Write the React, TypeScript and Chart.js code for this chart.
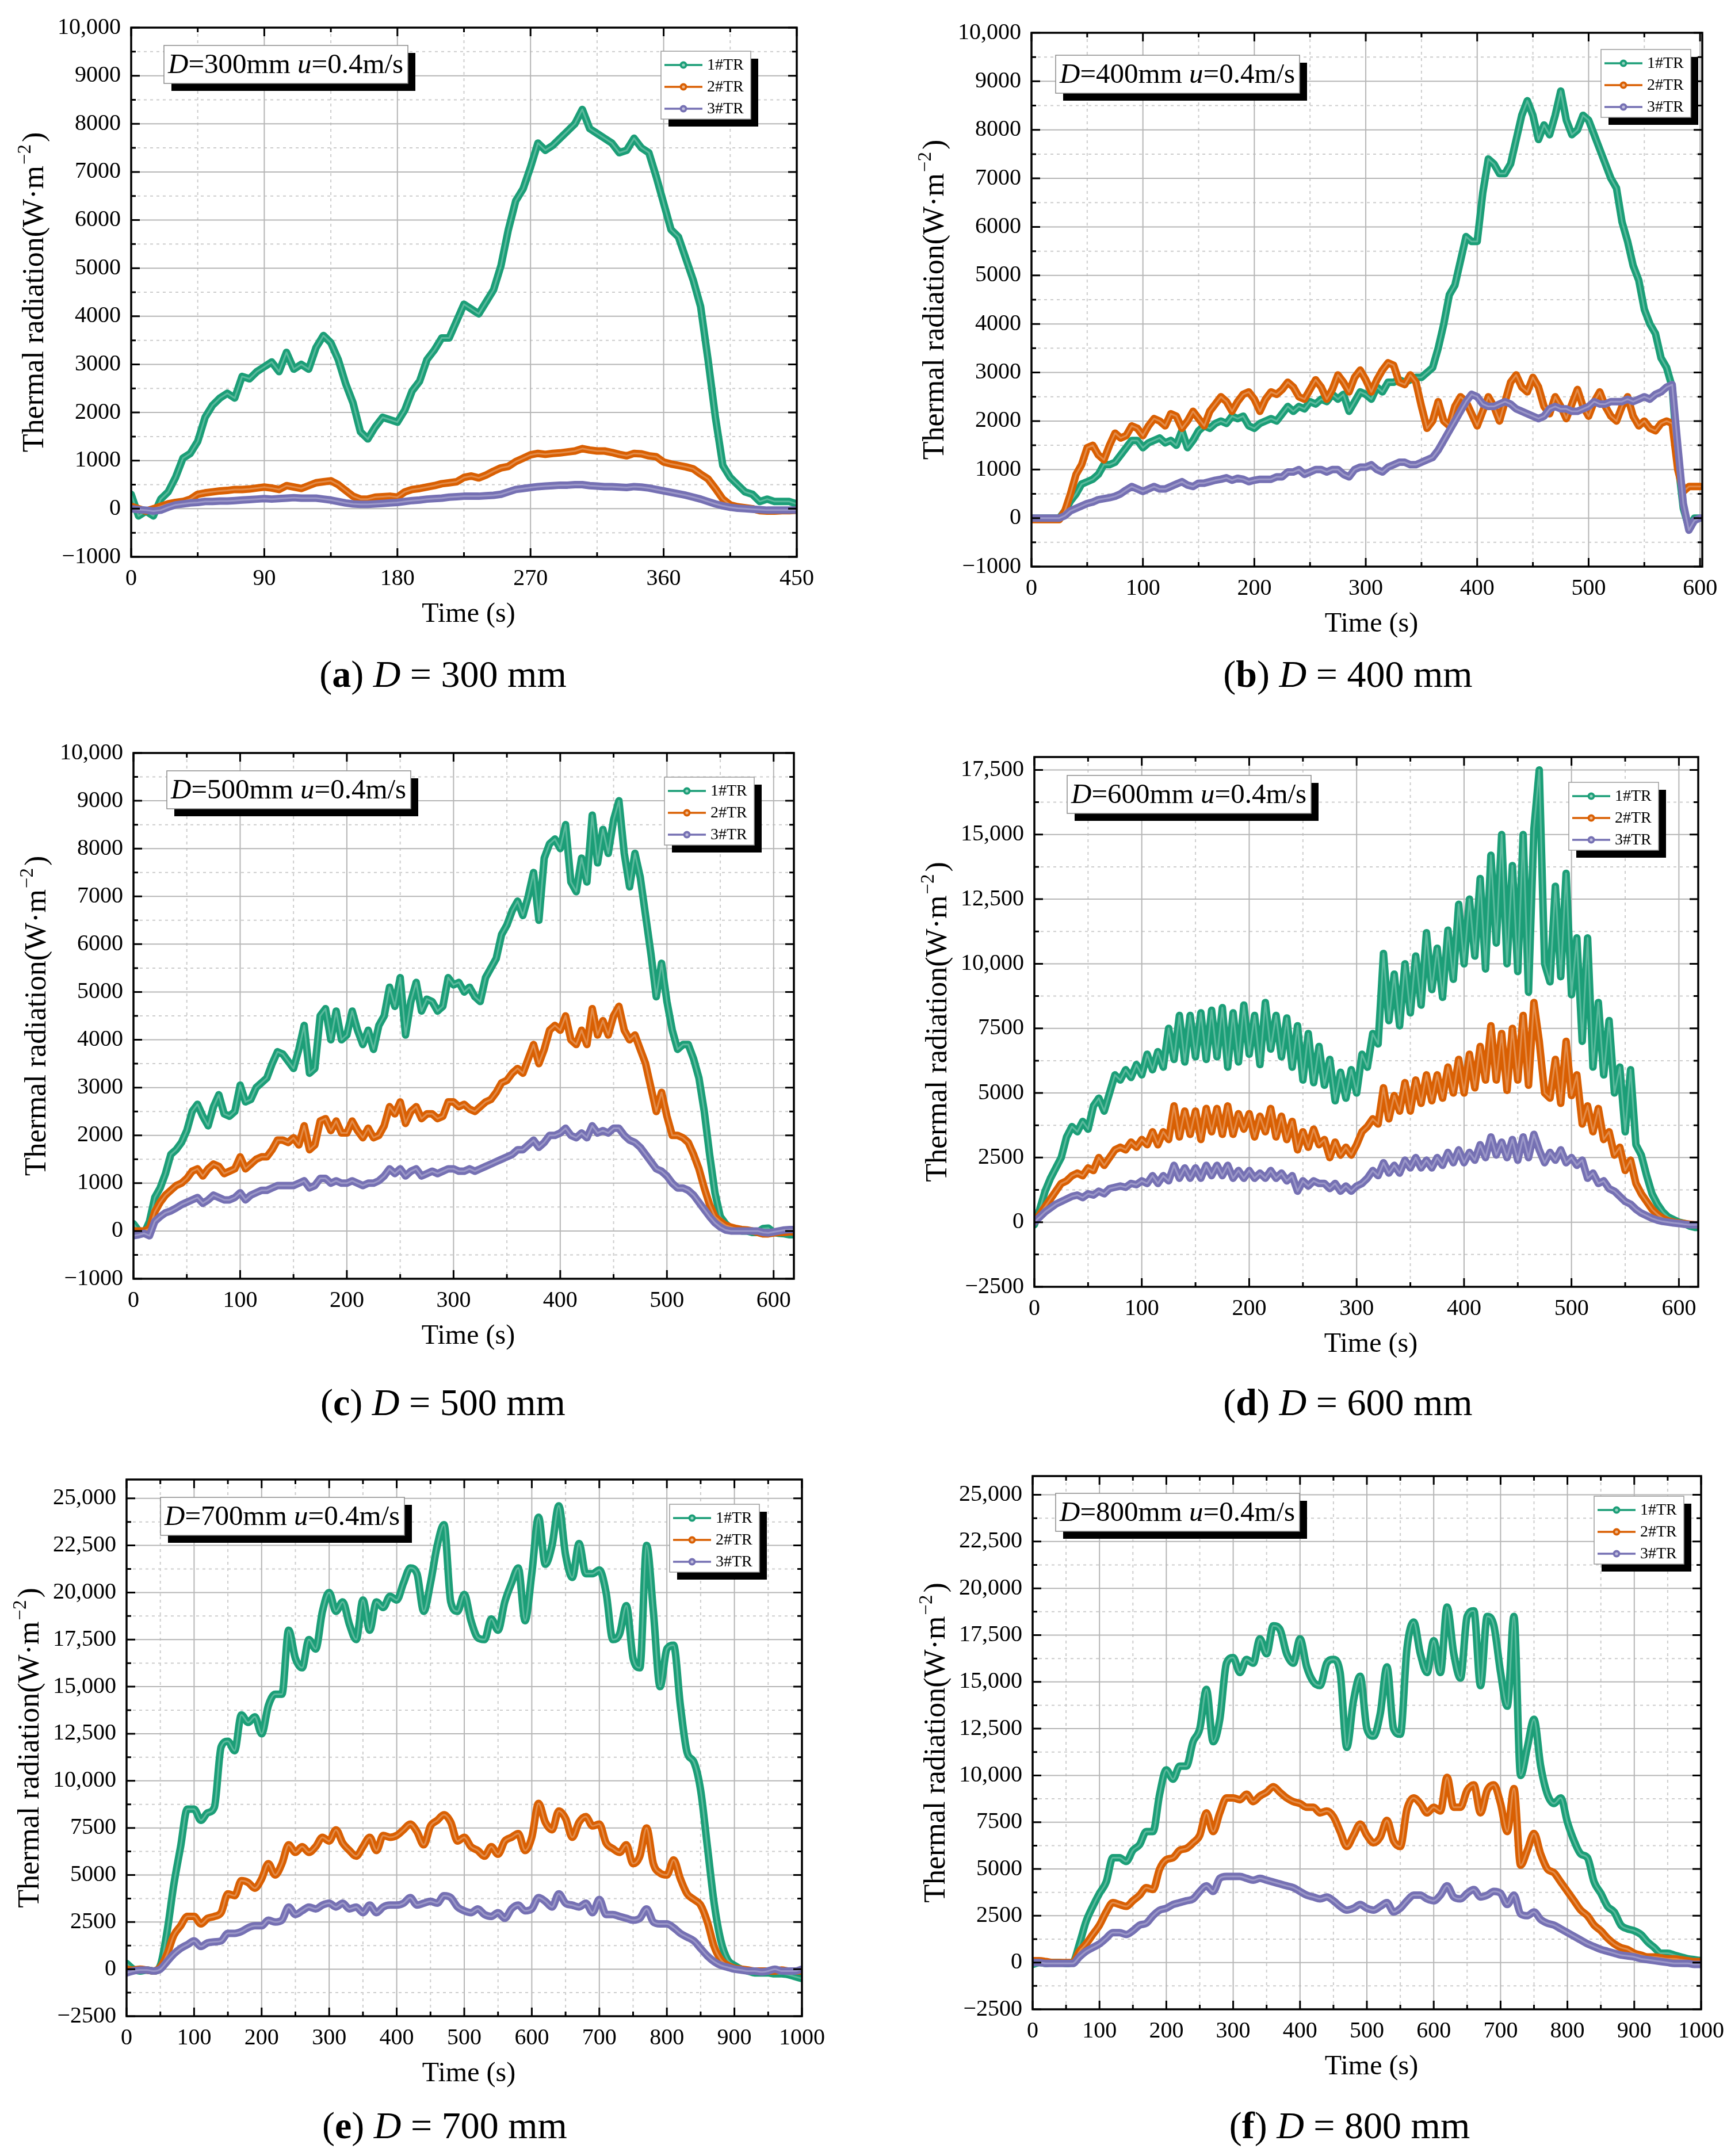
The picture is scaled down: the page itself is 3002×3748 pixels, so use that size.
import React, { useEffect, useRef } from 'react';
import Chart from 'chart.js/auto';

// ---- styling constants ----
const SERIF = '"Liberation Serif", "Times New Roman", serif';
const COLORS = ['#1b9e77', '#d95f02', '#7570b3'];
const SERIES_NAMES = ['1#TR', '2#TR', '3#TR'];
const AXIS_W = 220; // room for y labels + title
const AXIS_H = 140; // room for x labels + title
const PAD_T = 40;
const PAD_R = 60;

// sample instants of the recorded curves (s)
const sampleTimes = (step: number, last: number) => {
  const out: number[] = [];
  for (let t = 0; t <= last; t += step) out.push(t);
  return out;
};

// ---- tick labels ----
const xTicks450 = [0, 90, 180, 270, 360, 450];
const xTicks600 = [0, 100, 200, 300, 400, 500, 600];
const xTicks1000 = [0, 100, 200, 300, 400, 500, 600, 700, 800, 900, 1000];
const yTicks10k = [-1000, 0, 1000, 2000, 3000, 4000, 5000, 6000, 7000, 8000, 9000, 10000];
const yTicks17k = [-2500, 0, 2500, 5000, 7500, 10000, 12500, 15000, 17500];
const yTicks25k = [-2500, 0, 2500, 5000, 7500, 10000, 12500, 15000, 17500, 20000, 22500, 25000];

// ---- (a) D = 300 mm, every 5 s ----
const timeA = sampleTimes(5, 450);
const trA1 = [
  300, -150, -50, -150, 200, 350, 650, 1050, 1150, 1400,
  1900, 2150, 2300, 2400, 2300, 2750, 2700, 2850, 2950, 3050,
  2850, 3250, 2900, 3000, 2900, 3350, 3600, 3450, 3100, 2600,
  2200, 1600, 1450, 1700, 1900, 1850, 1800, 2050, 2450, 2650,
  3100, 3300, 3550, 3550, 3900, 4250, 4150, 4050, 4300, 4550,
  5050, 5800, 6400, 6650, 7100, 7600, 7450, 7550, 7700, 7850,
  8000, 8300, 7900, 7800, 7700, 7600, 7400, 7450, 7700, 7500,
  7400, 6900, 6350, 5800, 5650, 5200, 4750, 4200, 3100, 1900,
  900, 650, 500, 350, 300, 150, 200, 150, 150, 150,
  100,
];
const trA2 = [
  50, 0, -50, 0, 50, 100, 130, 150, 200, 300,
  330, 350, 370, 380, 400, 400, 410, 430, 450, 430,
  400, 480, 450, 420, 480, 540, 560, 580, 500, 380,
  260, 200, 200, 240, 250, 260, 240, 350, 400, 420,
  450, 480, 520, 540, 560, 650, 680, 640, 700, 780,
  850, 880, 980, 1050, 1120, 1150, 1130, 1150, 1160, 1180,
  1200, 1250, 1220, 1200, 1200, 1170, 1130, 1100, 1150, 1140,
  1100, 1080, 970, 930, 900, 870, 830, 720, 620, 420,
  200, 80, 40, 20, 0, -40, -50, -50, -40, -40,
  -30,
];
const trA3 = [
  0, -20, -30, -50, -30, 30, 80, 100, 120, 130,
  150, 150, 160, 160, 170, 180, 190, 200, 210, 200,
  210, 220, 230, 220, 220, 220, 200, 180, 150, 120,
  100, 90, 90, 100, 110, 120, 130, 150, 170, 180,
  200, 210, 220, 240, 250, 260, 260, 260, 270, 280,
  300, 350, 400, 420, 440, 460, 470, 480, 490, 490,
  500, 500, 480, 470, 460, 460, 450, 440, 460, 450,
  430, 400, 370, 340, 310, 280, 240, 200, 150, 100,
  60, 30, 10, 0, -10, -20, -30, -30, -30, -30,
  -30,
];

// ---- (b) D = 400 mm, every 5 s ----
const timeB = sampleTimes(5, 600);
const trB1 = [
  0, 0, 0, 0, 0, 0, 150, 350, 500, 700,
  750, 800, 900, 1100, 1100, 1150, 1300, 1450, 1600, 1600,
  1450, 1550, 1600, 1650, 1550, 1600, 1500, 1800, 1450, 1600,
  1800, 1900, 1850, 1950, 2000, 1950, 2100, 2050, 2100, 1900,
  1850, 1950, 2000, 2050, 2000, 2150, 2300, 2200, 2300, 2250,
  2400, 2350, 2450, 2400, 2550, 2450, 2550, 2200, 2400, 2600,
  2550, 2450, 2700, 2600, 2800, 2800, 2850, 2800, 2850, 2900,
  2900, 3000, 3100, 3500, 4000, 4600, 4800, 5300, 5800, 5700,
  5700, 6700, 7400, 7300, 7100, 7100, 7300, 7800, 8300, 8600,
  8300, 7800, 8100, 7900, 8300, 8800, 8200, 7900, 8000, 8300,
  8200, 7900, 7600, 7300, 7000, 6800, 6100, 5700, 5200, 4900,
  4300, 4000, 3800, 3300, 3100, 2700, 1200, 200, -200, 0,
  0,
];
const trB2 = [
  -30, -30, -30, -30, -30, -30, 150, 500, 900, 1100,
  1450, 1500, 1300, 1200, 1500, 1750, 1650, 1700, 1900, 1850,
  1700, 1900, 2050, 2000, 1900, 2150, 2100, 1850, 2000, 2200,
  2050, 1900, 2200, 2350, 2500, 2400, 2200, 2400, 2550, 2600,
  2450, 2200, 2450, 2600, 2550, 2650, 2800, 2700, 2500, 2450,
  2650, 2850, 2700, 2450, 2650, 2950, 2800, 2600, 2900, 3050,
  2850, 2600, 2850, 3050, 3200, 3150, 2800, 2750, 2950, 2800,
  2300, 1850, 2000, 2400, 2000, 1900, 2300, 2500, 2400, 2150,
  1900, 2200, 2500, 2300, 2000, 2400, 2800, 2950, 2700, 2600,
  2900, 2700, 2300, 2150, 2500, 2300, 2050, 2350, 2650, 2300,
  2100, 2400, 2600, 2300, 2100, 2000, 2300, 2500, 2100, 1900,
  2000, 1850, 1800, 1950, 2000, 1950, 1000, 550, 650, 650,
  650,
];
const trB3 = [
  0, 0, 0, 0, 0, 0, 50, 150, 200, 250,
  300, 330, 380, 400, 420, 450, 500, 580, 650, 600,
  550, 600, 650, 600, 600, 650, 700, 750, 680, 650,
  720, 720, 750, 780, 800, 830, 780, 820, 800, 750,
  780, 800, 800, 800, 850, 850, 950, 950, 1000, 900,
  950, 1000, 1000, 950, 1000, 1000, 900, 850, 1000, 1050,
  1050, 1100, 1000, 950, 1050, 1100, 1150, 1150, 1100, 1100,
  1150, 1200, 1250, 1400, 1600, 1800, 2000, 2200, 2400, 2550,
  2500, 2350, 2300, 2300, 2350, 2400, 2350, 2250, 2200, 2150,
  2100, 2050, 2100, 2250, 2300, 2250, 2250, 2200, 2200, 2250,
  2300, 2400, 2350, 2350, 2400, 2400, 2400, 2450, 2400, 2450,
  2500, 2450, 2550, 2600, 2700, 2750, 1500, 300, -250, -50,
  0,
];

// ---- (c) D = 500 mm, every 5 s ----
const timeC = sampleTimes(5, 620);
const trC1 = [
  150, 0, -50, 200, 700, 900, 1200, 1600, 1700, 1850,
  2100, 2500, 2650, 2400, 2200, 2600, 2850, 2450, 2400, 2500,
  3050, 2700, 2750, 3000, 3100, 3200, 3500, 3750, 3700, 3550,
  3400, 3800, 4300, 3300, 3400, 4500, 4650, 4000, 4600, 4000,
  4100, 4600, 4200, 3900, 4200, 3800, 4300, 4500, 5100, 4700,
  5300, 4100, 4800, 5200, 4600, 4850, 4800, 4600, 4700, 5300,
  5150, 5200, 5000, 5100, 4900, 4800, 5300, 5500, 5700, 6200,
  6400, 6700, 6900, 6600, 7000, 7500, 6500, 7800, 8100, 8200,
  8000, 8500, 7300, 7100, 7800, 7300, 8700, 7700, 8400, 7900,
  8600, 9000, 7900, 7200, 7900, 7400, 6600, 5800, 4900, 5600,
  4800, 4200, 3800, 3900, 3900, 3600, 3200, 2500, 1600, 800,
  300, 150, 50, 20, 0, 0, -30, -30, 50, 60,
  -30, -50, -60, -80, -80,
];
const trC2 = [
  0, 0, 0, 50, 400, 600, 750, 850, 950, 1000,
  1100, 1250, 1300, 1150, 1300, 1400, 1350, 1200, 1250, 1300,
  1550, 1300, 1400, 1500, 1550, 1550, 1700, 1900, 1900, 1850,
  1950, 1800, 2200, 1700, 1800, 2300, 2350, 2100, 2300, 2050,
  2050, 2300, 2100, 1950, 2150, 1950, 2000, 2200, 2600, 2450,
  2700, 2250, 2500, 2600, 2350, 2450, 2450, 2350, 2400, 2700,
  2700, 2600, 2650, 2550, 2500, 2600, 2700, 2750, 2900, 3100,
  3150, 3300, 3400, 3300, 3600, 3900, 3500, 3800, 4200, 4300,
  4200, 4500, 4000, 3900, 4200, 3900, 4650, 4100, 4400, 4100,
  4500, 4700, 4200, 4000, 4100, 3800, 3500, 3000, 2500, 2900,
  2400, 2000, 2000, 1950, 1850, 1600, 1300, 900, 550, 300,
  200, 120, 80, 50, 30, 20, 0, -30, -60, -60,
  -40, -30, -30, -20, -20,
];
const trC3 = [
  -100, -80, -50, -100, 200, 300, 380, 420, 480, 550,
  600, 650, 700, 580, 650, 750, 700, 650, 650, 700,
  800, 650, 750, 800, 850, 850, 900, 950, 950, 950,
  950, 1000, 1050, 900, 950, 1100, 1100, 1000, 1050, 1000,
  1000, 1050, 1000, 950, 1000, 1000, 1050, 1150, 1300, 1200,
  1300, 1150, 1250, 1300, 1150, 1200, 1250, 1200, 1250, 1300,
  1300, 1250, 1250, 1300, 1250, 1300, 1350, 1400, 1450, 1500,
  1550, 1600, 1700, 1700, 1800, 1900, 1750, 1850, 2000, 2000,
  2050, 2150, 2000, 1950, 2050, 1950, 2200, 2050, 2100, 2050,
  2150, 2150, 2000, 1900, 1850, 1750, 1600, 1450, 1300, 1250,
  1150, 1000, 900, 900, 850, 750, 600, 450, 300, 170,
  80, 20, 0, 0, 0, 0, 0, 0, -30, -40,
  -20, 0, 20, 30, 30,
];

// ---- (d) D = 600 mm, every 5 s ----
const timeD = sampleTimes(5, 620);
const trD1 = [
  -100, 500, 1200, 1700, 2100, 2500, 3300, 3700, 3500, 3900,
  3600, 4500, 4800, 4300, 5000, 5700, 5500, 5900, 5600, 6100,
  5700, 6500, 5900, 6600, 6000, 7500, 6300, 8000, 6200, 8000,
  6400, 8100, 6300, 8200, 6400, 8300, 6000, 8100, 6200, 8400,
  6500, 8000, 6100, 8500, 6700, 8000, 6400, 7900, 6000, 7600,
  5500, 7300, 5400, 6800, 5300, 6300, 4700, 5800, 4800, 5900,
  5000, 6500, 6000, 7300, 6900, 10400, 7800, 9600, 7600, 10000,
  8100, 10300, 8400, 11200, 9000, 10600, 8700, 11300, 9400, 12300,
  10000, 12500, 10300, 13300, 9800, 14200, 10800, 15000, 10000, 13800,
  9700, 15000, 8900, 15200, 17500, 10000, 9300, 13000, 9500, 13500,
  8800, 11000, 7000, 11000, 6000, 8500, 5700, 7800, 5000, 6000,
  3500, 5900, 3000, 2600, 1800, 1100, 700, 400, 200, 100,
  0, -50, -150, -200, -200,
];
const trD2 = [
  0, 300, 600, 900, 1200, 1500, 1600, 1800, 1900, 1800,
  2100, 2000, 2500, 2200, 2500, 2800, 2900, 2800, 3100, 2900,
  3200, 3000, 3500, 3000, 3500, 3200, 4500, 3300, 4300, 3400,
  4300, 3200, 4400, 3500, 4400, 3400, 4500, 3400, 4200, 3600,
  4200, 3300, 4100, 3500, 4400, 3300, 4100, 3200, 3900, 2800,
  3500, 2900, 3600, 3000, 3200, 2500, 3100, 2600, 2900, 2600,
  3000, 3500, 3700, 4000, 3800, 5200, 4000, 4900, 4300, 5400,
  4300, 5500, 4600, 5700, 4700, 5700, 4800, 6000, 5000, 6300,
  5000, 6500, 5200, 6800, 5500, 7600, 5500, 7300, 5100, 7500,
  5500, 8000, 5300, 8500, 7000, 5000, 4800, 6300, 4600, 7000,
  4900, 5700, 3800, 4500, 3500, 4400, 3200, 3500, 2600, 2900,
  2000, 2400, 1500, 1100, 800, 500, 300, 150, 50, 0,
  -30, -50, -80, -100, -100,
];
const trD3 = [
  0, 200, 400, 550, 700, 800, 900, 1000, 1050, 950,
  1100, 1050, 1200, 1100, 1300, 1350, 1400, 1350, 1500, 1450,
  1600, 1500, 1800, 1500, 1800, 1600, 2200, 1700, 2100, 1700,
  2100, 1700, 2200, 1800, 2200, 1800, 2200, 1700, 2000, 1700,
  2000, 1700, 1900, 1700, 2000, 1700, 1900, 1600, 1800, 1200,
  1600, 1400, 1600, 1500, 1500, 1300, 1500, 1200, 1400, 1200,
  1400, 1500, 1700, 2000, 1800, 2300, 1900, 2200, 1900, 2400,
  2100, 2500, 2100, 2400, 2100, 2500, 2200, 2700, 2300, 2800,
  2300, 2700, 2400, 3000, 2500, 3300, 2600, 3100, 2500, 3200,
  2400, 3300, 2500, 3400, 2800, 2300, 2700, 2400, 2800, 2300,
  2500, 2200, 2400, 1700, 1900, 1500, 1600, 1300, 1200, 1000,
  800, 700, 500, 350, 250, 150, 80, 30, 0, -30,
  -50, -80, -100, -100, -100,
];

// ---- (e) D = 700 mm, every 10 s ----
const timeE = sampleTimes(10, 1000);
const trE1 = [
  300, 0, -100, -50, -100, 200, 2000, 4500, 6500, 8500,
  8500, 7900, 8300, 8600, 11800, 12100, 11600, 13500, 13100, 13400,
  12500, 14000, 14600, 14600, 18000, 16500, 16000, 17500, 17000, 19000,
  20000, 19000, 19500, 18300, 17500, 19600, 18000, 19500, 19200, 19800,
  19600, 20500, 21300, 21000, 19000, 20500, 22500, 23600, 19500, 19000,
  19900, 18500, 17600, 17500, 18600, 18000, 19500, 20500, 21300, 18500,
  21000, 24000, 21500, 22500, 24600, 22000, 20800, 22600, 21000, 21000,
  21200, 20000, 17500, 17800, 19300, 16500, 16000, 22500, 19000, 15000,
  17000, 17200, 14000, 11500, 11000, 9500, 6500, 3500, 1500, 500,
  200, 0, -100, -200, -200, -200, -250, -250, -300, -400,
  -500,
];
const trE2 = [
  0, -50, 0, -50, -100, 100, 800, 1800, 2300, 2800,
  2800, 2400, 2700, 2800, 3000, 4000, 3900, 4700, 4600, 4300,
  4800, 5600, 5000, 5600, 6600, 6200, 6500, 6200, 6500, 7000,
  6800, 7400, 6700, 6300, 6000, 6500, 7000, 6300, 7100, 7000,
  7100, 7400, 7700, 7300, 6600, 7600, 7900, 8200, 7800, 6800,
  7000, 6500, 6300, 6000, 6500, 6100, 6800, 7000, 7200, 6300,
  7000, 8800, 7800, 7400, 8400, 8000, 7000, 7800, 8100, 7600,
  7700, 6700, 6400, 6200, 6600, 5600, 6000, 7500, 5600, 5100,
  5000, 5800, 4800, 4000, 3700, 3400, 2500, 1200, 500, 200,
  50, 0, -50, -100, -100, -100, -100, -50, -100, -100,
  -100,
];
const trE3 = [
  -200, -100, -50, -50, -100, 0, 400, 800, 1100, 1300,
  1500, 1200, 1400, 1450, 1500, 1900, 1900, 2000, 2200, 2300,
  2300, 2600, 2500, 2600, 3300, 2900, 3100, 3300, 3200, 3400,
  3500, 3300, 3500, 3200, 3300, 3000, 3400, 3000, 3300, 3400,
  3400, 3500, 3800, 3400, 3500, 3600, 3500, 3900, 3800, 3300,
  3100, 3000, 3200, 2900, 2800, 3000, 2700, 3200, 3400, 3100,
  3200, 3800, 3600, 3300, 4000, 3500, 3400, 3300, 3500, 3000,
  3700, 2900, 2900, 2800, 2700, 2600, 2700, 3200, 2500, 2400,
  2400, 2200, 1900, 1700, 1500, 1100, 700, 400, 200, 100,
  0, -50, -100, -100, -150, -100, 0, -100, -100, -100,
  0,
];

// ---- (f) D = 800 mm, every 10 s ----
const timeF = sampleTimes(10, 1000);
const trF1 = [
  -100, 0, -50, 0, 0, -50, 0, 1000, 2200, 3000,
  3700, 4300, 5600, 5600, 5400, 6000, 6300, 7000, 7000, 9000,
  10300, 9800, 10500, 10500, 11800, 12500, 14600, 11800, 13000, 16000,
  16300, 15500, 16200, 16000, 17300, 16500, 18000, 17800, 16500, 16000,
  17300, 15800, 15000, 14800, 16000, 16200, 15500, 11500, 14000, 15300,
  12500, 12100, 13300, 15800, 12500, 12200, 16800, 18200, 16500, 15500,
  17200, 15500, 19000, 16500, 15200, 18500, 18800, 14800, 18500, 18000,
  15500, 13700, 18500, 10000, 11500, 13000, 10500, 9000, 8500, 8800,
  7500, 6500, 5800, 5600, 4300, 3700, 3000, 2700, 2000, 1800,
  1700, 1500, 1100, 800, 500, 500, 400, 300, 200, 150,
  100,
];
const trF2 = [
  100, 100, 50, 0, 0, 0, 0, 600, 1000, 1500,
  2000, 2700, 3200, 3100, 3000, 3300, 3600, 4000, 3900, 5000,
  5500, 5600, 6000, 6100, 6400, 6800, 8000, 7000, 8000, 8800,
  8800, 8700, 9000, 8600, 8900, 9100, 9400, 9100, 8800, 8600,
  8500, 8300, 8300, 8000, 8100, 7800, 7000, 6200, 6800, 7400,
  6800, 6400, 6700, 7600, 6500, 6200, 8200, 8800, 8500, 8000,
  8300, 8100, 9900, 8300, 8300, 9200, 9500, 8000, 9200, 9500,
  8500, 7000, 9300, 5200, 6000, 6900, 5800, 5000, 4800, 4300,
  3800, 3300, 2800, 2500, 2000, 1700, 1300, 1000, 800, 700,
  500, 400, 300, 300, 250, 200, 200, 150, 100, 50,
  50,
];
const trF3 = [
  0, 0, -50, -50, -50, -50, -50, 300, 600, 800,
  1000, 1300, 1600, 1600, 1500, 1700, 2000, 2100, 2500, 2800,
  2900, 3100, 3200, 3300, 3400, 3800, 4100, 3800, 4500, 4600,
  4600, 4600, 4500, 4400, 4500, 4400, 4300, 4200, 4100, 4000,
  3800, 3600, 3500, 3400, 3500, 3300, 3000, 2800, 2900, 3100,
  2900, 2800, 3000, 3200, 2700, 2900, 3300, 3600, 3600, 3400,
  3300, 3600, 4100, 3500, 3400, 3700, 3900, 3500, 3600, 3800,
  3700, 3100, 3600, 2600, 2500, 2700, 2300, 2100, 2000, 1800,
  1600, 1400, 1200, 1000, 850, 700, 600, 500, 400, 350,
  300, 200, 150, 100, 50, 0, -50, -50, -50, -100,
  -100,
];

type Panel = {
  tag: string;
  dia: number;
  time: number[];
  series: number[][];
  xMax: number;
  yMin: number;
  yMax: number;
  xTicks: number[];
  yTicks: number[];
  plot: [number, number, number, number]; // left, top, right, bottom on the page
  legend: [number, number];
  note: [number, number];
  caption: [number, number];
  smooth: boolean;
};

const panels: Panel[] = [
  { tag: 'a', dia: 300, time: timeA, series: [trA1, trA2, trA3], xMax: 450, yMin: -1000, yMax: 10000,
    xTicks: xTicks450, yTicks: yTicks10k, plot: [228, 46, 1385, 968], legend: [1149, 89], note: [285, 79],
    caption: [770, 1172], smooth: false },
  { tag: 'b', dia: 400, time: timeB, series: [trB1, trB2, trB3], xMax: 602, yMin: -1000, yMax: 10000,
    xTicks: xTicks600, yTicks: yTicks10k, plot: [1793, 55, 2959, 985], legend: [2783, 86], note: [1835, 96],
    caption: [2343, 1172], smooth: false },
  { tag: 'c', dia: 500, time: timeC, series: [trC1, trC2, trC3], xMax: 619, yMin: -1000, yMax: 10000,
    xTicks: xTicks600, yTicks: yTicks10k, plot: [232, 1307, 1380, 2223], legend: [1155, 1351], note: [290, 1340],
    caption: [770, 2438], smooth: false },
  { tag: 'd', dia: 600, time: timeD, series: [trD1, trD2, trD3], xMax: 618, yMin: -2500, yMax: 18000,
    xTicks: xTicks600, yTicks: yTicks17k, plot: [1798, 1314, 2952, 2237], legend: [2727, 1360], note: [1855, 1348],
    caption: [2343, 2438], smooth: false },
  { tag: 'e', dia: 700, time: timeE, series: [trE1, trE2, trE3], xMax: 1000, yMin: -2500, yMax: 26000,
    xTicks: xTicks1000, yTicks: yTicks25k, plot: [220, 2570, 1394, 3505], legend: [1164, 2615], note: [279, 2603],
    caption: [773, 3695], smooth: true },
  { tag: 'f', dia: 800, time: timeF, series: [trF1, trF2, trF3], xMax: 1000, yMin: -2500, yMax: 26000,
    xTicks: xTicks1000, yTicks: yTicks25k, plot: [1795, 2564, 2957, 3493], legend: [2771, 2601], note: [1835, 2596],
    caption: [2346, 3695], smooth: true },
];

const fmt = (v: number) => {
  const a = Math.abs(v);
  const s = a >= 10000 ? a.toLocaleString('en-US') : String(a);
  return v < 0 ? '\u2212' + s : s;
};

// half-way ticks between the labelled ones
const minorOf = (major: number[], min: number, max: number) => {
  const step = major[1] - major[0];
  const out: number[] = [];
  for (let v = major[0] - step / 2; v <= max; v += step) if (v >= min && !major.includes(v)) out.push(v);
  return out;
};

function drawNote(ctx: CanvasRenderingContext2D, x: number, y: number, dia: number) {
  const w = 424, h = 66;
  ctx.fillStyle = '#000';
  ctx.fillRect(x + 13, y + 13, w, h);
  ctx.fillStyle = '#fff';
  ctx.fillRect(x, y, w, h);
  ctx.strokeStyle = '#8a8a8a';
  ctx.lineWidth = 1.5;
  ctx.strokeRect(x, y, w, h);
  const parts: [string, boolean][] = [['D', true], [`=${dia}mm `, false], ['u', true], ['=0.4m/s', false]];
  ctx.textBaseline = 'middle';
  ctx.textAlign = 'left';
  let cx = x + 7;
  for (const [txt, it] of parts) {
    ctx.font = `${it ? 'italic ' : ''}49px ${SERIF}`;
    ctx.fillStyle = '#000';
    ctx.fillText(txt, cx, y + h / 2 + 2);
    cx += ctx.measureText(txt).width;
  }
}

function drawLegend(ctx: CanvasRenderingContext2D, x: number, y: number) {
  const w = 156, h = 118;
  ctx.fillStyle = '#000';
  ctx.fillRect(x + 13, y + 13, w, h);
  ctx.fillStyle = '#fff';
  ctx.fillRect(x, y, w, h);
  ctx.strokeStyle = '#9a9a9a';
  ctx.lineWidth = 1.5;
  ctx.strokeRect(x, y, w, h);
  const rows = [24, 62, 100];
  rows.forEach((dy, i) => {
    const ry = y + dy;
    ctx.strokeStyle = COLORS[i];
    ctx.lineWidth = 3.5;
    ctx.beginPath();
    ctx.moveTo(x + 6, ry);
    ctx.lineTo(x + 72, ry);
    ctx.stroke();
    ctx.fillStyle = COLORS[i];
    ctx.beginPath();
    ctx.arc(x + 39, ry, 6.5, 0, Math.PI * 2);
    ctx.fill();
    ctx.fillStyle = 'rgba(255,255,255,0.55)';
    ctx.beginPath();
    ctx.arc(x + 39, ry, 2.6, 0, Math.PI * 2);
    ctx.fill();
    ctx.fillStyle = '#000';
    ctx.font = `28px ${SERIF}`;
    ctx.textBaseline = 'middle';
    ctx.textAlign = 'left';
    ctx.fillText(SERIES_NAMES[i], x + 80, ry + 1);
  });
}

function drawYTitle(ctx: CanvasRenderingContext2D, cx: number, cy: number) {
  const main = `52px ${SERIF}`;
  const sup = `33px ${SERIF}`;
  const t1 = 'Thermal radiation(W\u00b7m';
  const t2 = '\u22122';
  const t3 = ')';
  ctx.save();
  ctx.translate(cx, cy);
  ctx.rotate(-Math.PI / 2);
  ctx.fillStyle = '#000';
  ctx.textAlign = 'left';
  ctx.textBaseline = 'alphabetic';
  ctx.font = main;
  const w1 = ctx.measureText(t1).width;
  const w3 = ctx.measureText(t3).width;
  ctx.font = sup;
  const w2 = ctx.measureText(t2).width;
  let x = -(w1 + w2 + w3 + 6) / 2;
  const base = 17;
  ctx.font = main;
  ctx.fillText(t1, x, base);
  x += w1 + 2;
  ctx.font = sup;
  ctx.fillText(t2, x, base - 22);
  x += w2 + 4;
  ctx.font = main;
  ctx.fillText(t3, x, base);
  ctx.restore();
}

const framePlugin = (p: Panel, ox: number, oy: number) => ({
  id: 'originFrame',
  beforeDatasetsDraw(chart: any) {
    const { ctx, chartArea: a, scales } = chart;
    const xs = scales.x, ys = scales.y;
    ctx.save();
    ctx.strokeStyle = '#cdcdcd';
    ctx.lineWidth = 2;
    ctx.setLineDash([5, 6]);
    for (const v of minorOf(p.xTicks, 0, p.xMax)) {
      const px = xs.getPixelForValue(v);
      ctx.beginPath(); ctx.moveTo(px, a.top); ctx.lineTo(px, a.bottom); ctx.stroke();
    }
    for (const v of minorOf(p.yTicks, p.yMin, p.yMax)) {
      const py = ys.getPixelForValue(v);
      ctx.beginPath(); ctx.moveTo(a.left, py); ctx.lineTo(a.right, py); ctx.stroke();
    }
    ctx.setLineDash([]);
    ctx.strokeStyle = '#b6b6b6';
    ctx.lineWidth = 2;
    for (const v of p.xTicks) {
      const px = xs.getPixelForValue(v);
      if (px <= a.left + 2 || px >= a.right - 2) continue;
      ctx.beginPath(); ctx.moveTo(px, a.top); ctx.lineTo(px, a.bottom); ctx.stroke();
    }
    for (const v of p.yTicks) {
      const py = ys.getPixelForValue(v);
      if (py <= a.top + 2 || py >= a.bottom - 2) continue;
      ctx.beginPath(); ctx.moveTo(a.left, py); ctx.lineTo(a.right, py); ctx.stroke();
    }
    ctx.restore();
  },
  afterDatasetsDraw(chart: any) {
    const { ctx, chartArea: a, scales } = chart;
    const xs = scales.x, ys = scales.y;
    ctx.save();
    ctx.strokeStyle = '#000';
    ctx.lineWidth = 3;
    const tickX = (v: number, len: number) => {
      const px = xs.getPixelForValue(v);
      ctx.beginPath();
      ctx.moveTo(px, a.bottom); ctx.lineTo(px, a.bottom - len);
      ctx.moveTo(px, a.top); ctx.lineTo(px, a.top + len);
      ctx.stroke();
    };
    const tickY = (v: number, len: number) => {
      const py = ys.getPixelForValue(v);
      ctx.beginPath();
      ctx.moveTo(a.left, py); ctx.lineTo(a.left + len, py);
      ctx.moveTo(a.right, py); ctx.lineTo(a.right - len, py);
      ctx.stroke();
    };
    p.xTicks.forEach((v) => tickX(v, 15));
    minorOf(p.xTicks, 0, p.xMax).forEach((v) => tickX(v, 8));
    p.yTicks.forEach((v) => tickY(v, 15));
    minorOf(p.yTicks, p.yMin, p.yMax).forEach((v) => tickY(v, 8));
    ctx.lineWidth = 3.5;
    ctx.strokeRect(a.left, a.top, a.right - a.left, a.bottom - a.top);

    drawNote(ctx, p.note[0] - ox, p.note[1] - oy, p.dia);
    drawLegend(ctx, p.legend[0] - ox, p.legend[1] - oy);

    // axis titles
    ctx.fillStyle = '#000';
    ctx.font = `48px ${SERIF}`;
    ctx.textAlign = 'center';
    ctx.textBaseline = 'middle';
    ctx.fillText('Time (s)', (a.left + a.right) / 2 + 8, a.bottom + 100);
    drawYTitle(ctx, a.left - 170, (a.top + a.bottom) / 2);
    ctx.restore();
  },
});

function buildDatasets(p: Panel) {
  const out: any[] = [];
  p.series.forEach((vals, i) => {
    const base = {
      pointRadius: 0,
      fill: false,
      tension: p.smooth ? 0.3 : 0,
      cubicInterpolationMode: p.smooth ? 'monotone' : 'default',
      borderJoinStyle: 'round',
      borderCapStyle: 'round',
    };
    out.push({
      ...base,
      label: SERIES_NAMES[i],
      data: p.time.map((t, k) => ({ x: t, y: vals[k] })),
      borderColor: COLORS[i],
      borderWidth: 13,
      order: 6 - 2 * i,
    });
    out.push({
      ...base,
      label: SERIES_NAMES[i] + ' core',
      data: p.time.map((t, k) => ({ x: t, y: vals[k] })),
      borderColor: 'rgba(255,255,255,0.28)',
      borderWidth: 3,
      order: 5 - 2 * i,
    });
  });
  return out;
}

const PanelChart: React.FC<{ p: Panel }> = ({ p }) => {
  const canvasRef = useRef<HTMLCanvasElement>(null);
  const [l, t, r, b] = p.plot;
  const ox = l - AXIS_W;
  const oy = t - PAD_T;
  const width = r - l + AXIS_W + PAD_R;
  const height = b - t + PAD_T + AXIS_H;

  useEffect(() => {
    if (!canvasRef.current) return;
    const tickFont = { family: SERIF, size: 40 };
    const chart = new Chart(canvasRef.current, {
      type: 'line',
      data: { datasets: buildDatasets(p) },
      options: {
        animation: false,
        responsive: false,
        devicePixelRatio: 1,
        layout: { padding: { left: 0, top: PAD_T, right: PAD_R, bottom: 0 } },
        plugins: { legend: { display: false }, tooltip: { enabled: false } },
        scales: {
          x: {
            type: 'linear',
            min: 0,
            max: p.xMax,
            grid: { display: false, drawTicks: false },
            border: { display: false },
            afterBuildTicks: (s: any) => { s.ticks = p.xTicks.map((v) => ({ value: v })); },
            afterFit: (s: any) => { s.height = AXIS_H; },
            ticks: { font: tickFont, color: '#000', padding: 14, maxRotation: 0, autoSkip: false, callback: (v: any) => fmt(Number(v)) },
          },
          y: {
            type: 'linear',
            min: p.yMin,
            max: p.yMax,
            grid: { display: false, drawTicks: false },
            border: { display: false },
            afterBuildTicks: (s: any) => { s.ticks = p.yTicks.map((v) => ({ value: v })); },
            afterFit: (s: any) => { s.width = AXIS_W; },
            ticks: { font: tickFont, color: '#000', padding: 18, autoSkip: false, callback: (v: any) => fmt(Number(v)) },
          },
        },
      } as any,
      plugins: [framePlugin(p, ox, oy)],
    });
    return () => chart.destroy();
  }, [p]);

  return (
    <>
      <canvas
        ref={canvasRef}
        width={width}
        height={height}
        style={{ position: 'absolute', left: ox, top: oy, width, height }}
      />
      <div
        style={{
          position: 'absolute',
          left: p.caption[0] - 500,
          top: p.caption[1] - 45,
          width: 1000,
          height: 90,
          lineHeight: '90px',
          textAlign: 'center',
          fontFamily: SERIF,
          fontSize: 66,
          color: '#000',
          whiteSpace: 'nowrap',
        }}
      >
        (<b>{p.tag}</b>) <i>D</i> = {p.dia} mm
      </div>
    </>
  );
};

export default function App() {
  return (
    <div style={{ position: 'absolute', left: 0, top: 0, width: 3002, height: 3748, background: '#fff', overflow: 'hidden' }}>
      {panels.map((p) => (
        <PanelChart key={p.tag} p={p} />
      ))}
    </div>
  );
}
